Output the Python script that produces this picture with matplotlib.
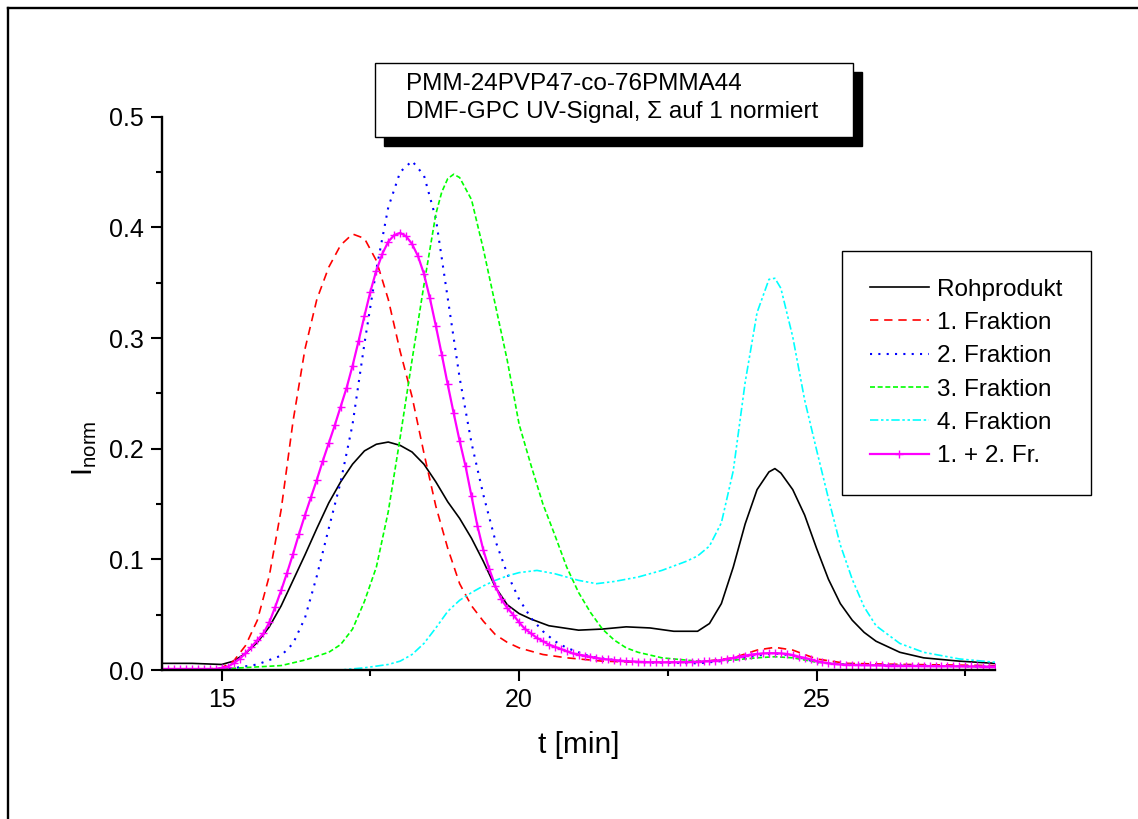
import numpy as np
import matplotlib.pyplot as plt
from matplotlib.lines import Line2D
from matplotlib.patches import Rectangle
from matplotlib.ticker import FormatStrFormatter

plt.rcParams['font.family'] = ['Liberation Sans', 'DejaVu Sans']
plt.rcParams['mathtext.fontset'] = 'custom'
plt.rcParams['mathtext.rm'] = 'Liberation Sans'

# --- data (t in min, normalised intensity) ---
t_roh = [14.0, 14.5, 15.0, 15.2, 15.4, 15.6, 15.8, 16.0, 16.2, 16.4, 16.6, 16.8,
         17.0, 17.2, 17.4, 17.6, 17.8, 18.0, 18.2, 18.4, 18.6, 18.8, 19.0, 19.2,
         19.4, 19.6, 19.8, 20.0, 20.2, 20.5, 21.0, 21.4, 21.8, 22.2, 22.6, 23.0,
         23.2, 23.4, 23.6, 23.8, 24.0, 24.2, 24.3, 24.4, 24.6, 24.8, 25.0, 25.2,
         25.4, 25.6, 25.8, 26.0, 26.4, 26.8, 27.4, 28.0]
i_roh = [0.006, 0.006, 0.005, 0.008, 0.015, 0.025, 0.039, 0.058, 0.081, 0.104, 0.128, 0.151,
         0.170, 0.186, 0.198, 0.204, 0.206, 0.203, 0.197, 0.186, 0.170, 0.152, 0.137, 0.119,
         0.098, 0.075, 0.059, 0.051, 0.046, 0.040, 0.036, 0.037, 0.039, 0.038, 0.035, 0.035,
         0.042, 0.060, 0.093, 0.132, 0.163, 0.179, 0.182, 0.178, 0.163, 0.140, 0.110, 0.082,
         0.060, 0.045, 0.034, 0.026, 0.016, 0.011, 0.008, 0.006]

t_fr1 = [14.0, 14.6, 15.0, 15.2, 15.4, 15.6, 15.8, 16.0, 16.2, 16.4, 16.6, 16.8,
         17.0, 17.2, 17.4, 17.6, 17.8, 18.0, 18.2, 18.4, 18.6, 18.8, 19.0, 19.2,
         19.4, 19.6, 19.8, 20.0, 20.4, 20.8, 21.4, 22.0, 23.0, 23.6, 24.0, 24.3,
         24.6, 25.0, 25.5, 26.5, 28.0]
i_fr1 = [0.000, 0.000, 0.002, 0.008, 0.022, 0.045, 0.085, 0.145, 0.225, 0.290, 0.335, 0.364,
         0.384, 0.394, 0.390, 0.370, 0.335, 0.288, 0.247, 0.196, 0.148, 0.110, 0.078, 0.058,
         0.044, 0.032, 0.025, 0.020, 0.014, 0.011, 0.008, 0.007, 0.007, 0.011, 0.018, 0.0205,
         0.018, 0.010, 0.006, 0.005, 0.004]

t_fr2 = [14.0, 15.0, 15.6, 16.0, 16.2, 16.4, 16.6, 16.8, 17.0, 17.2, 17.4, 17.6,
         17.8, 18.0, 18.2, 18.4, 18.6, 18.8, 19.0, 19.2, 19.4, 19.6, 19.8, 20.0,
         20.2, 20.4, 20.6, 20.8, 21.2, 21.6, 22.0, 23.0, 23.6, 24.0, 24.3, 24.6,
         25.0, 25.5, 26.5, 28.0]
i_fr2 = [0.000, 0.000, 0.005, 0.013, 0.024, 0.047, 0.085, 0.128, 0.170, 0.222, 0.295, 0.362,
         0.418, 0.450, 0.460, 0.447, 0.408, 0.336, 0.264, 0.205, 0.158, 0.117, 0.087, 0.064,
         0.047, 0.035, 0.026, 0.020, 0.012, 0.009, 0.007, 0.006, 0.009, 0.013, 0.015, 0.013,
         0.007, 0.005, 0.004, 0.003]

t_fr3 = [14.0, 15.0, 16.0, 16.4, 16.8, 17.0, 17.2, 17.4, 17.6, 17.8, 18.0, 18.2,
         18.4, 18.6, 18.7, 18.8, 18.9, 19.0, 19.2, 19.4, 19.6, 19.8, 20.0, 20.2,
         20.4, 20.6, 20.8, 21.0, 21.2, 21.4, 21.6, 21.8, 22.0, 22.4, 23.0, 23.6,
         24.0, 24.3, 24.6, 25.0, 25.5, 26.5, 28.0]
i_fr3 = [0.000, 0.001, 0.004, 0.009, 0.016, 0.023, 0.037, 0.062, 0.093, 0.143, 0.210, 0.280,
         0.348, 0.412, 0.432, 0.444, 0.448, 0.445, 0.425, 0.380, 0.330, 0.280, 0.222, 0.185,
         0.150, 0.122, 0.093, 0.070, 0.052, 0.037, 0.027, 0.020, 0.016, 0.011, 0.008, 0.009,
         0.011, 0.012, 0.011, 0.007, 0.005, 0.004, 0.003]

t_fr4 = [14.0, 17.0, 17.4, 17.8, 18.0, 18.2, 18.4, 18.6, 18.8, 19.0, 19.2, 19.4,
         19.6, 19.8, 20.0, 20.3, 20.6, 20.8, 21.0, 21.3, 21.6, 22.0, 22.4, 22.8,
         23.0, 23.2, 23.4, 23.6, 23.8, 24.0, 24.2, 24.3, 24.4, 24.6, 24.8, 25.0,
         25.2, 25.4, 25.6, 25.8, 26.0, 26.4, 26.8, 27.4, 28.0]
i_fr4 = [0.000, 0.000, 0.002, 0.005, 0.008, 0.014, 0.024, 0.038, 0.053, 0.063, 0.070, 0.076,
         0.081, 0.085, 0.088, 0.090, 0.087, 0.084, 0.081, 0.078, 0.080, 0.084, 0.090, 0.098,
         0.103, 0.112, 0.133, 0.180, 0.260, 0.323, 0.353, 0.354, 0.345, 0.301, 0.244, 0.199,
         0.155, 0.113, 0.082, 0.057, 0.040, 0.024, 0.016, 0.010, 0.007]

# 1. + 2. fraction, sampled every 0.1 min (every point carries a marker)
t_mix = np.arange(140, 281) / 10
i_mix = [0.001, 0.001, 0.001, 0.001, 0.001, 0.001, 0.001, 0.001, 0.001, 0.001,
         0.002, 0.003, 0.006, 0.010, 0.015, 0.021, 0.027, 0.033, 0.043, 0.057,
         0.072, 0.088, 0.105, 0.123, 0.140, 0.156, 0.172, 0.189, 0.205, 0.221,
         0.238, 0.255, 0.275, 0.297, 0.320, 0.342, 0.361, 0.376, 0.387, 0.393,
         0.395, 0.392, 0.385, 0.374, 0.358, 0.336, 0.311, 0.285, 0.258, 0.232,
         0.207, 0.184, 0.157, 0.130, 0.108, 0.091, 0.076, 0.064, 0.056, 0.050,
         0.043, 0.037, 0.033, 0.029, 0.026, 0.023, 0.021, 0.019, 0.017, 0.015,
         0.014, 0.013, 0.012, 0.011, 0.010, 0.0095, 0.009, 0.0085, 0.008, 0.0078,
         0.0075, 0.0072, 0.007, 0.007, 0.007, 0.007, 0.007, 0.007, 0.0072, 0.0073,
         0.0075, 0.0078, 0.008, 0.0085, 0.009, 0.010, 0.011, 0.012, 0.013, 0.014,
         0.0145, 0.015, 0.0152, 0.0152, 0.015, 0.0145, 0.0135, 0.012, 0.011, 0.0095,
         0.008, 0.007, 0.006, 0.0055, 0.005, 0.0048, 0.0046, 0.0045, 0.0044, 0.0043,
         0.0042, 0.0041, 0.004, 0.004, 0.0039, 0.0038, 0.0038, 0.0037, 0.0036, 0.0036,
         0.0035, 0.0035, 0.0034, 0.0034, 0.0033, 0.0033, 0.0032, 0.0032, 0.0031, 0.0031,
         0.003]

labels = ['Rohprodukt', '1. Fraktion', '2. Fraktion', '3. Fraktion', '4. Fraktion', '1. + 2. Fr.']

W, H = 1138, 819
fig = plt.figure(figsize=(W / 100, H / 100), dpi=100)
ax = fig.add_axes([162.2 / W, 1 - 670 / H, (995 - 162.2) / W, (670 - 116.7) / H])

ax.plot(t_roh, i_roh, color='black', lw=1.2, label=labels[0])
ax.plot(t_fr1, i_fr1, color='#ff0000', lw=1.2, ls=(0, (5, 3.5)), label=labels[1])
ax.plot(t_fr2, i_fr2, color='#0000ff', lw=1.5, ls=(0, (1, 3)), label=labels[2])
ax.plot(t_fr3, i_fr3, color='#00ff00', lw=1.2, ls=(0, (3, 1.6)), label=labels[3])
ax.plot(t_fr4, i_fr4, color='#00ffff', lw=1.2, ls=(0, (5, 1.6, 1.5, 1.6, 1.5, 1.6)), label=labels[4])
ax.plot(t_mix, i_mix, color='#ff00ff', lw=1.6, marker='+', ms=5.5, mew=1.0, label=labels[5])

ax.set_xlim(14, 28)
ax.set_ylim(0, 0.5)
ax.set_xticks([15, 20, 25])
ax.set_xticks([17.5, 22.5, 27.5], minor=True)
ax.set_yticks([0.0, 0.1, 0.2, 0.3, 0.4, 0.5])
ax.set_yticks([0.05, 0.15, 0.25, 0.35, 0.45], minor=True)
ax.yaxis.set_major_formatter(FormatStrFormatter('%.1f'))
for s in ['top', 'right']:
    ax.spines[s].set_visible(False)
for s in ['left', 'bottom']:
    ax.spines[s].set_linewidth(1.7)
ax.tick_params(which='major', direction='out', length=8, width=1.5, labelsize=18, pad=5)
ax.tick_params(which='minor', direction='out', length=4.3, width=1.5)

ax.set_xlabel('t [min]', fontsize=21.5)
ax.xaxis.set_label_coords(0.5, -(745 - 670) / 553.3)
ax.xaxis.label.set_va('center')
ax.set_ylabel(r'I$_\mathregular{norm}$', fontsize=21)
ax.yaxis.set_label_coords(-(162.2 - 85) / 832.8, (670 - 448) / 553.3)
ax.yaxis.label.set_va('center')

leg = ax.legend(loc='upper left', bbox_to_anchor=(841.7 / W, 1 - 250.7 / H),
                bbox_transform=fig.transFigure, fancybox=False, edgecolor='black',
                framealpha=1, fontsize=17.5, handlelength=2.45, handletextpad=0.33,
                labelspacing=0.465, borderpad=1.15, borderaxespad=0)
leg.get_frame().set_linewidth(1.0)

# text box with shadow
fig.add_artist(Rectangle((384 / W, 1 - 146 / H), 478 / W, 74 / H, transform=fig.transFigure,
                         facecolor='black', edgecolor='black'))
fig.add_artist(Rectangle((375 / W, 1 - 137 / H), 478 / W, 74 / H, transform=fig.transFigure,
                         facecolor='white', edgecolor='black', lw=1.0))
fig.text(406 / W, 1 - 90 / H, 'PMM-24PVP47-co-76PMMA44', fontsize=17.5, va='baseline')
fig.text(406 / W, 1 - 118 / H, 'DMF-GPC UV-Signal, \u03a3 auf 1 normiert', fontsize=17.5, va='baseline')

# outer frame (left and top edges)
fig.add_artist(Line2D([8 / W, 8 / W], [0, 1 - 8 / H], transform=fig.transFigure, color='black', lw=1.7))
fig.add_artist(Line2D([8 / W, 1], [1 - 8 / H, 1 - 8 / H], transform=fig.transFigure, color='black', lw=1.7))

fig.savefig('out.png', dpi=100)
